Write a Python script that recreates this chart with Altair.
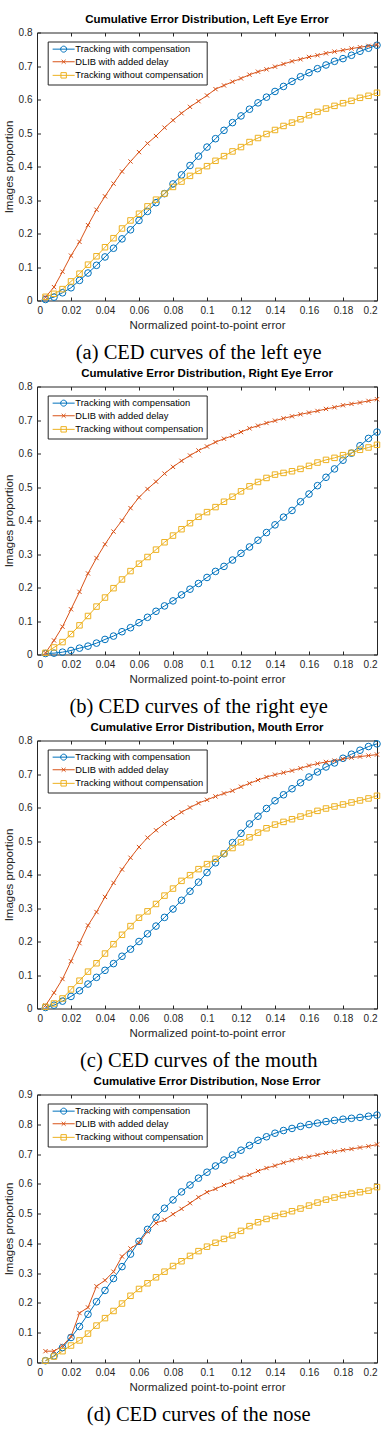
import altair as alt
import pandas as pd

# Normalized point-to-point error at which each CED curve is sampled
ERR = [0.005, 0.010, 0.015, 0.020, 0.025, 0.030, 0.035, 0.040, 0.045, 0.050,
       0.055, 0.060, 0.065, 0.070, 0.075, 0.080, 0.085, 0.090, 0.095, 0.100,
       0.105, 0.110, 0.115, 0.120, 0.125, 0.130, 0.135, 0.140, 0.145, 0.150,
       0.155, 0.160, 0.165, 0.170, 0.175, 0.180, 0.185, 0.190, 0.195, 0.200]

SERIES = ["Tracking with compensation", "DLIB with added delay", "Tracking without compensation"]
COLORS = ["#0072BD", "#D95319", "#EDB120"]

# Left eye
LEFT_COMP = [0.003, 0.010, 0.023, 0.038, 0.060, 0.082, 0.105, 0.130, 0.156, 0.184,
             0.211, 0.239, 0.266, 0.292, 0.319, 0.348, 0.375, 0.403, 0.431, 0.458,
             0.483, 0.508, 0.531, 0.551, 0.571, 0.590, 0.607, 0.624, 0.639, 0.654,
             0.668, 0.680, 0.692, 0.703, 0.714, 0.722, 0.732, 0.744, 0.753, 0.762]
LEFT_DLIB = [0.010, 0.040, 0.086, 0.134, 0.175, 0.225, 0.271, 0.311, 0.349, 0.385,
             0.415, 0.443, 0.469, 0.491, 0.516, 0.538, 0.559, 0.578, 0.595, 0.612,
             0.631, 0.642, 0.653, 0.663, 0.674, 0.683, 0.690, 0.698, 0.706, 0.714,
             0.720, 0.727, 0.732, 0.738, 0.743, 0.747, 0.752, 0.756, 0.760, 0.764]
LEFT_NOCOMP = [0.011, 0.020, 0.034, 0.057, 0.080, 0.107, 0.132, 0.159, 0.186, 0.215,
               0.239, 0.259, 0.281, 0.301, 0.319, 0.339, 0.355, 0.372, 0.387, 0.401,
               0.417, 0.431, 0.445, 0.458, 0.473, 0.485, 0.497, 0.509, 0.521, 0.531,
               0.541, 0.553, 0.563, 0.573, 0.581, 0.589, 0.596, 0.605, 0.611, 0.620]

# Right eye
RIGHT_COMP = [0.003, 0.004, 0.007, 0.012, 0.019, 0.025, 0.034, 0.045, 0.055, 0.068,
              0.080, 0.095, 0.111, 0.129, 0.145, 0.160, 0.178, 0.195, 0.212, 0.230,
              0.248, 0.263, 0.282, 0.302, 0.321, 0.341, 0.364, 0.387, 0.410, 0.430,
              0.456, 0.479, 0.504, 0.529, 0.554, 0.580, 0.601, 0.623, 0.645, 0.664]
RIGHT_DLIB = [0.005, 0.042, 0.083, 0.135, 0.187, 0.242, 0.288, 0.329, 0.367, 0.400,
              0.437, 0.469, 0.494, 0.516, 0.540, 0.560, 0.578, 0.594, 0.609, 0.621,
              0.634, 0.644, 0.653, 0.664, 0.675, 0.683, 0.691, 0.698, 0.705, 0.711,
              0.717, 0.722, 0.727, 0.733, 0.738, 0.744, 0.748, 0.752, 0.757, 0.762]
RIGHT_NOCOMP = [0.005, 0.021, 0.037, 0.061, 0.087, 0.115, 0.143, 0.170, 0.198, 0.224,
                0.249, 0.271, 0.291, 0.313, 0.335, 0.355, 0.374, 0.392, 0.411, 0.425,
                0.440, 0.456, 0.471, 0.487, 0.502, 0.515, 0.527, 0.537, 0.542, 0.547,
                0.554, 0.563, 0.573, 0.581, 0.587, 0.595, 0.602, 0.611, 0.618, 0.626]

# Mouth
MOUTH_COMP = [0.003, 0.010, 0.022, 0.036, 0.053, 0.073, 0.093, 0.114, 0.134, 0.156,
              0.177, 0.200, 0.223, 0.246, 0.272, 0.297, 0.323, 0.350, 0.377, 0.406,
              0.435, 0.462, 0.495, 0.523, 0.551, 0.574, 0.597, 0.620, 0.638, 0.656,
              0.674, 0.691, 0.706, 0.721, 0.733, 0.747, 0.759, 0.771, 0.782, 0.790]
MOUTH_DLIB = [0.009, 0.047, 0.088, 0.141, 0.195, 0.248, 0.288, 0.333, 0.375, 0.415,
              0.450, 0.482, 0.510, 0.532, 0.552, 0.569, 0.586, 0.600, 0.613, 0.623,
              0.633, 0.642, 0.650, 0.662, 0.672, 0.682, 0.691, 0.698, 0.704, 0.710,
              0.717, 0.725, 0.731, 0.736, 0.740, 0.745, 0.749, 0.752, 0.755, 0.758]
MOUTH_NOCOMP = [0.005, 0.015, 0.030, 0.057, 0.083, 0.110, 0.135, 0.164, 0.192, 0.220,
                0.246, 0.271, 0.290, 0.312, 0.337, 0.358, 0.381, 0.398, 0.416, 0.431,
                0.447, 0.463, 0.479, 0.496, 0.511, 0.525, 0.538, 0.549, 0.557, 0.565,
                0.573, 0.582, 0.590, 0.597, 0.603, 0.609, 0.615, 0.621, 0.627, 0.635]

# Nose
NOSE_COMP = [0.006, 0.022, 0.050, 0.084, 0.121, 0.162, 0.204, 0.242, 0.282, 0.322,
             0.364, 0.407, 0.447, 0.488, 0.518, 0.546, 0.573, 0.596, 0.619, 0.639,
             0.660, 0.680, 0.697, 0.713, 0.729, 0.746, 0.758, 0.770, 0.779, 0.786,
             0.793, 0.799, 0.804, 0.809, 0.813, 0.817, 0.820, 0.823, 0.827, 0.831]
NOSE_DLIB = [0.038, 0.038, 0.056, 0.087, 0.166, 0.185, 0.256, 0.276, 0.305, 0.356,
             0.383, 0.402, 0.440, 0.468, 0.479, 0.498, 0.516, 0.535, 0.555, 0.572,
             0.583, 0.596, 0.607, 0.621, 0.630, 0.643, 0.653, 0.661, 0.671, 0.679,
             0.686, 0.691, 0.697, 0.704, 0.708, 0.713, 0.717, 0.722, 0.726, 0.732]
NOSE_NOCOMP = [0.006, 0.020, 0.038, 0.057, 0.074, 0.097, 0.124, 0.149, 0.173, 0.198,
               0.224, 0.247, 0.266, 0.286, 0.305, 0.324, 0.340, 0.358, 0.374, 0.389,
               0.402, 0.415, 0.427, 0.442, 0.458, 0.471, 0.482, 0.492, 0.499, 0.508,
               0.517, 0.527, 0.537, 0.547, 0.554, 0.562, 0.567, 0.572, 0.577, 0.589]

X_TICKS = [0, 0.02, 0.04, 0.06, 0.08, 0.1, 0.12, 0.14, 0.16, 0.18, 0.2]
Y_TICKS_08 = [0, 0.1, 0.2, 0.3, 0.4, 0.5, 0.6, 0.7, 0.8]
Y_TICKS_09 = [0, 0.1, 0.2, 0.3, 0.4, 0.5, 0.6, 0.7, 0.8, 0.9]

W, H = 340, 268
TICK = 3.5
INK = "#262626"
SANS = "Liberation Sans"

# plot markers: open circle, x, open square
X_PATH = "M-1,-1L1,1M-1,1L1,-1"
MARKERS = ["circle", X_PATH, "square"]
MARKER_SIZES = [44, 18, 30]

# legend keys: a short line with the marker drawn over it
KEY_PATHS = [
    "M-3.67,0H3.67M1,0A1,1 0 1,1 -1,0A1,1 0 1,1 1,0",
    "M-3.67,0H3.67M-0.65,-0.65L0.65,0.65M-0.65,0.65L0.65,-0.65",
    "M-3.67,0H3.67M-0.9,-0.9H0.9V0.9H-0.9Z",
]


def long_frame(comp, dlib, nocomp):
    rows = []
    for name, vals in zip(SERIES, (comp, dlib, nocomp)):
        for e, v in zip(ERR, vals):
            rows.append({"series": name, "err": e, "value": v})
    return pd.DataFrame(rows)


def panel(title, caption, comp, dlib, nocomp, ymax, yticks):
    base = alt.Chart(long_frame(comp, dlib, nocomp))
    x = alt.X("err:Q", scale=alt.Scale(domain=[0, 0.2], nice=False, zero=False),
              axis=alt.Axis(values=X_TICKS, format="~g", title="Normalized point-to-point error",
                            gridDash=[TICK, H - 2 * TICK, TICK, H]))
    y = alt.Y("value:Q", scale=alt.Scale(domain=[0, ymax], nice=False),
              axis=alt.Axis(values=yticks, format="~g", title="Images proportion",
                            gridDash=[TICK, W - 2 * TICK, TICK, W]))

    layers = []
    for s, col in zip(SERIES, COLORS):
        layers.append(base.transform_filter(alt.datum.series == s)
                      .mark_line(strokeWidth=1, color=col).encode(x=x, y=y))
    for s, col, shape, size in zip(SERIES, COLORS, MARKERS, MARKER_SIZES):
        layers.append(base.transform_filter(alt.datum.series == s)
                      .mark_point(shape=shape, size=size, filled=False, strokeWidth=1,
                                  opacity=1, color=col)
                      .encode(x=x, y=y))

    legend = alt.Legend(
        title=None, orient="none", legendX=10.7, legendY=9,
        fillColor="white", strokeColor=INK, padding=3,
        labelFont=SANS, labelFontSize=9.3, labelColor="black", labelLimit=400,
        symbolSize=36, symbolStrokeWidth=1, symbolOpacity=1,
        symbolOffset=8.3, labelOffset=7, rowPadding=2.6,
    )
    key = (
        base.transform_filter("datum.value < 0")
        .mark_point(filled=False, strokeWidth=1, opacity=1)
        .encode(
            x=x, y=y,
            color=alt.Color("series:N", scale=alt.Scale(domain=SERIES, range=COLORS), legend=legend),
            shape=alt.Shape("series:N", scale=alt.Scale(domain=SERIES, range=KEY_PATHS), legend=legend),
        )
    )
    layers.append(key)

    chart = alt.layer(*layers).properties(
        width=W, height=H,
        title=alt.TitleParams(title, font=SANS, fontSize=11.5, fontWeight="bold", color="black",
                              anchor="middle", frame="group", offset=2.5),
    )
    return (
        alt.vconcat(chart)
        .resolve_scale(color="independent", shape="independent")
        .resolve_legend(color="independent", shape="independent")
        .properties(
            title=alt.TitleParams(caption, orient="bottom", font="Liberation Serif", fontSize=20.5,
                                  fontWeight="normal", color="black", anchor="middle",
                                  frame="bounds", dx=6, offset=11)
        )
    )


figure = alt.vconcat(
    panel("Cumulative Error Distribution, Left Eye Error", "(a) CED curves of the left eye",
          LEFT_COMP, LEFT_DLIB, LEFT_NOCOMP, 0.8, Y_TICKS_08),
    panel("Cumulative Error Distribution, Right Eye Error", "(b) CED curves of the right eye",
          RIGHT_COMP, RIGHT_DLIB, RIGHT_NOCOMP, 0.8, Y_TICKS_08),
    panel("Cumulative Error Distribution, Mouth Error", "(c) CED curves of the mouth",
          MOUTH_COMP, MOUTH_DLIB, MOUTH_NOCOMP, 0.8, Y_TICKS_08),
    panel("Cumulative Error Distribution, Nose Error", "(d) CED curves of the nose",
          NOSE_COMP, NOSE_DLIB, NOSE_NOCOMP, 0.9, Y_TICKS_09),
    spacing=3,
).resolve_scale(
    color="independent", shape="independent",
).resolve_legend(
    color="independent", shape="independent",
).properties(
    padding={"left": 2, "top": 12.5, "right": 0, "bottom": 0},
    background="white",
).configure_view(
    stroke=INK, strokeWidth=1,
).configure_axis(
    labelFont=SANS, labelFontSize=10, labelColor=INK, labelPadding=5,
    titleFont=SANS, titleFontSize=11.5, titleFontWeight="normal", titleColor=INK,
    domain=False, ticks=False,
    grid=True, gridColor=INK, gridOpacity=1, gridWidth=1,
).configure_axisX(
    titlePadding=4,
).configure_axisY(
    titlePadding=4,
)

figure.save("out.html", embed_options={"renderer": "svg", "actions": False})
